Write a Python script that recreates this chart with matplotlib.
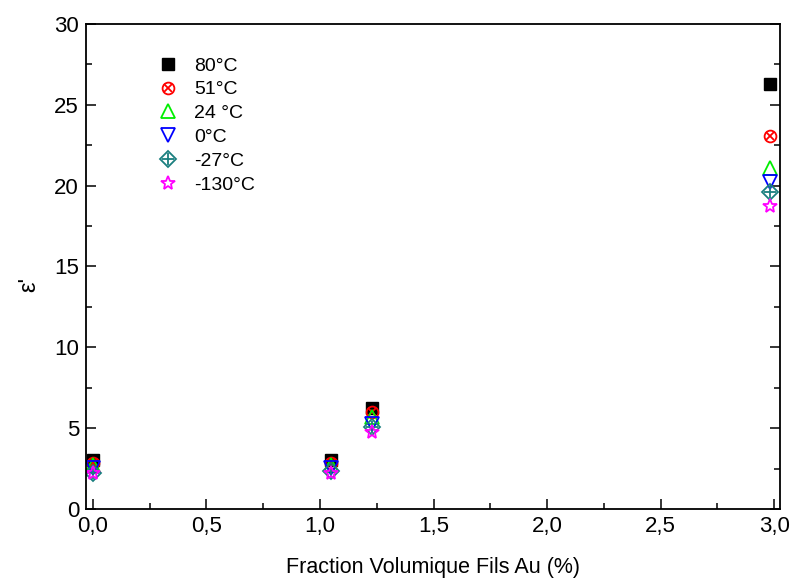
import numpy as np
import matplotlib
matplotlib.use("Agg")
import matplotlib.pyplot as plt
from matplotlib.ticker import MultipleLocator, FuncFormatter
from matplotlib.legend_handler import HandlerTuple

plt.rcParams['font.family'] = ['Liberation Sans', 'DejaVu Sans']

# fraction volumique des fils (%)
frac = [0.0, 1.05, 1.23, 2.98]

# permittivité réelle pour chaque température
temps = ['80°C', '51°C', '24 °C', '0°C', '-27°C', '-130°C']
eps_80 = [3.0, 3.0, 6.25, 26.3]
eps_51 = [2.85, 2.85, 6.0, 23.1]
eps_24 = [2.75, 2.75, 5.7, 21.1]
eps_0 = [2.55, 2.55, 5.25, 20.2]
eps_m27 = [2.25, 2.35, 5.05, 19.6]
eps_m130 = [2.2, 2.2, 4.75, 18.75]

fig = plt.figure(figsize=(7.92, 5.78), dpi=100)
ax = fig.add_axes([0.1086, 0.1194, 0.8764, 0.8391])

ms = 8.5
h = []
h.append(ax.plot(frac, eps_80, 's', color='black', ms=ms, ls='none')[0])
a = ax.plot(frac, eps_51, 'o', mfc='none', mec='red', mew=1.3, ms=ms, ls='none')[0]
b = ax.plot(frac, eps_51, 'x', color='red', mew=1.3, ms=ms * 0.7, ls='none')[0]
h.append((a, b))
h.append(ax.plot(frac, eps_24, '^', mfc='none', mec='#00ee00', mew=1.3, ms=ms + 1, ls='none')[0])
h.append(ax.plot(frac, eps_0, 'v', mfc='none', mec='blue', mew=1.3, ms=ms + 1, ls='none')[0])
a = ax.plot(frac, eps_m27, 'D', mfc='none', mec='#1a7f7f', mew=1.3, ms=ms * 0.9, ls='none')[0]
b = ax.plot(frac, eps_m27, '+', color='#1a7f7f', mew=1.3, ms=ms * 1.1, ls='none')[0]
h.append((a, b))
h.append(ax.plot(frac, eps_m130, '*', mfc='none', mec='magenta', mew=1.3, ms=ms + 2, ls='none')[0])

ax.set_xlim(-0.03, 3.026)
ax.set_ylim(0, 30)
ax.xaxis.set_major_locator(MultipleLocator(0.5))
ax.xaxis.set_minor_locator(MultipleLocator(0.25))
ax.yaxis.set_major_locator(MultipleLocator(5))
ax.yaxis.set_minor_locator(MultipleLocator(2.5))
ax.xaxis.set_major_formatter(FuncFormatter(lambda v, p: f'{v:.1f}'.replace('.', ',')))

ax.tick_params(which='both', direction='in', right=True, top=False, labelsize=16, width=1.1)
ax.tick_params(which='major', length=7, pad=5)
ax.tick_params(which='minor', length=4)
for s in ax.spines.values():
    s.set_linewidth(1.3)

ax.set_xlabel('Fraction Volumique Fils Au (%)', fontsize=15.5, va='center')
ax.xaxis.set_label_coords(0.5, -0.1216)
ax.set_ylabel("ε'", fontsize=17, va='center')
ax.yaxis.set_label_coords(-0.082, 0.464)

ax.legend(h, temps, loc='upper left', bbox_to_anchor=(0.079, 0.968), frameon=False,
          fontsize=14, handler_map={tuple: HandlerTuple(ndivide=1, pad=0)},
          handlelength=1.0, handletextpad=0.85, labelspacing=0.32)

fig.savefig('out.png', dpi=100)
